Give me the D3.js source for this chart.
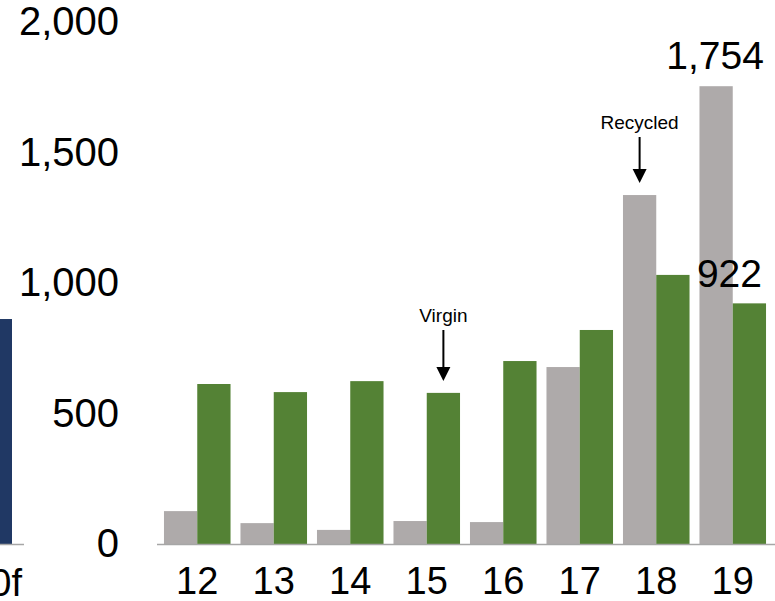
<!DOCTYPE html>
<html><head><meta charset="utf-8">
<script src="https://cdn.jsdelivr.net/npm/d3@7"></script>
<style>
body{margin:0;background:#fff;}
svg{display:block;font-family:"Liberation Sans",Arial,sans-serif;}
</style></head>
<body><svg id="c" width="775" height="601"></svg>
<script>
const categories = ["12","13","14","15","16","17","18","19"];
const recycled = [126, 80, 54, 88, 84, 678, 1337, 1754];
const virgin = [613, 582, 624, 579, 701, 820, 1031, 922];
const yTicks = [0, 500, 1000, 1500, 2000];
const prevCategory = ["2030f"];
const prevValue = [862];

const svg = d3.select("#c");
const y = d3.scaleLinear().domain([0, 2000]).range([544, 22]);
const x = d3.scaleBand().domain(categories).range([159, 771]).paddingInner(0.13).paddingOuter(0.065);
const sub = d3.scaleBand().domain(["recycled","virgin"]).range([0, x.bandwidth()]);
const colors = {recycled:"#aeaaaa", virgin:"#548235"};

// previous (cropped) panel on the left
const xPrev = d3.scaleBand().domain(prevCategory).range([-60, 30]).paddingInner(0).paddingOuter(0.3);
svg.selectAll(".prev").data(prevCategory).join("rect")
  .attr("x", d => xPrev(d)).attr("width", 12 - xPrev(prevCategory[0]))
  .attr("y", (d,i) => y(prevValue[i])).attr("height", (d,i) => y(0) - y(prevValue[i]))
  .attr("fill", "#203864");
svg.append("line").attr("x1", 0).attr("x2", 24).attr("y1", y(0)+0.5).attr("y2", y(0)+0.5)
  .attr("stroke", "#a6a6a6").attr("stroke-width", 1.5);
svg.selectAll(".prevlab").data(prevCategory).join("text")
  .attr("x", 22).attr("y", 596).attr("text-anchor", "end")
  .attr("font-size", 38).attr("fill", "#000").text(d => d);

// bars
const data = categories.map((c,i) => ({c, recycled: recycled[i], virgin: virgin[i]}));
const g = svg.selectAll(".grp").data(data).join("g").attr("transform", d => `translate(${x(d.c)},0)`);
g.selectAll("rect").data(d => ["recycled","virgin"].map(k => ({k, v: d[k]}))).join("rect")
  .attr("x", d => sub(d.k)).attr("width", sub.bandwidth())
  .attr("y", d => y(d.v)).attr("height", d => y(0) - y(d.v))
  .attr("fill", d => colors[d.k]);

// baseline
svg.append("line").attr("x1", 157).attr("x2", 775).attr("y1", y(0)+0.5).attr("y2", y(0)+0.5)
  .attr("stroke", "#a6a6a6").attr("stroke-width", 1.5);

// y axis labels
const yAxis = svg.append("g").attr("transform", "translate(119,0)")
  .call(d3.axisLeft(y).tickValues(yTicks).tickFormat(d3.format(",")).tickSize(0).tickPadding(0));
yAxis.select(".domain").remove();
yAxis.selectAll("text").attr("font-size", 40).attr("fill", "#000").attr("font-family", "Liberation Sans, Arial, sans-serif");

// x axis labels
const xAxis = svg.append("g").attr("transform", `translate(0,${y(0)})`)
  .call(d3.axisBottom(x).tickSize(0).tickPadding(23));
xAxis.select(".domain").remove();
xAxis.selectAll("text").attr("font-size", 38).attr("fill", "#000").attr("font-family", "Liberation Sans, Arial, sans-serif");

// value labels
const last = categories.length - 1;
svg.append("text").attr("x", x(categories[last]) + sub("recycled") + sub.bandwidth()/2 - 1)
  .attr("y", y(recycled[last]) - 17).attr("text-anchor", "middle")
  .attr("font-size", 39).text(d3.format(",")(recycled[last]));
svg.append("text").attr("x", 762)
  .attr("y", y(virgin[last]) - 16).attr("text-anchor", "end")
  .attr("font-size", 39).text(d3.format(",")(virgin[last]));

// annotations
function annot(cx, topVal, label, textY) {
  const tip = y(topVal) - 12;
  svg.append("text").attr("x", cx).attr("y", textY).attr("text-anchor", "middle")
    .attr("font-size", 19).attr("fill", "#000").text(label);
  svg.append("line").attr("x1", cx).attr("x2", cx).attr("y1", textY + 8).attr("y2", tip - 12)
    .attr("stroke", "#000").attr("stroke-width", 2);
  svg.append("path").attr("d", `M${cx-7},${tip-14}L${cx+7},${tip-14}L${cx},${tip}Z`).attr("fill", "#000");
}
annot(x("18") + sub("recycled") + sub.bandwidth()/2, recycled[6], "Recycled", 129);
annot(x("15") + sub("virgin") + sub.bandwidth()/2, virgin[3], "Virgin", 322);
</script></body></html>
